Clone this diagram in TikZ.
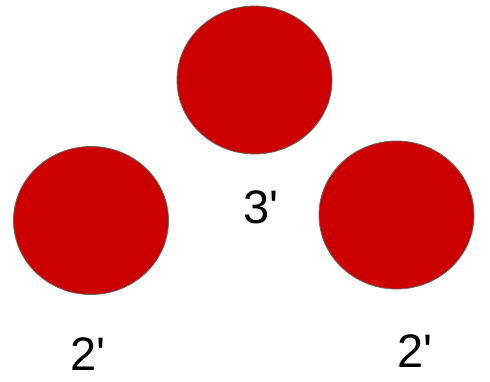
\documentclass[tikz,border=0pt]{standalone}
\usepackage{fontspec}
\usepackage{tikz}
\usetikzlibrary{shapes.geometric, positioning}
\newfontfamily\labelfont{Liberation Sans}
\definecolor{ballred}{HTML}{cc0000}
\definecolor{ballrim}{HTML}{666666}

\begin{document}
\begin{tikzpicture}[
    x=1pt, y=-1pt,
    ball/.style={ellipse, draw=ballrim, fill=ballred, line width=0.8pt, minimum width=155pt, minimum height=148pt, inner sep=0pt},
    size/.style={anchor=base west, inner sep=0pt, font=\labelfont\fontsize{47}{47}\selectfont}
]
\useasboundingbox (0,0) rectangle (490,381);

\node[ball] (topball) at (254.5,80) {};
\node[ball] (leftball) at (91,220.5) {};
\node[ball] (rightball) at (396.5,215) {};

\node[size] (topsize) at (243,223) {3'};
\node[size] (leftsize) at (70,370) {2'};
\node[size] (rightsize) at (397,367) {2'};

\end{tikzpicture}
\end{document}
